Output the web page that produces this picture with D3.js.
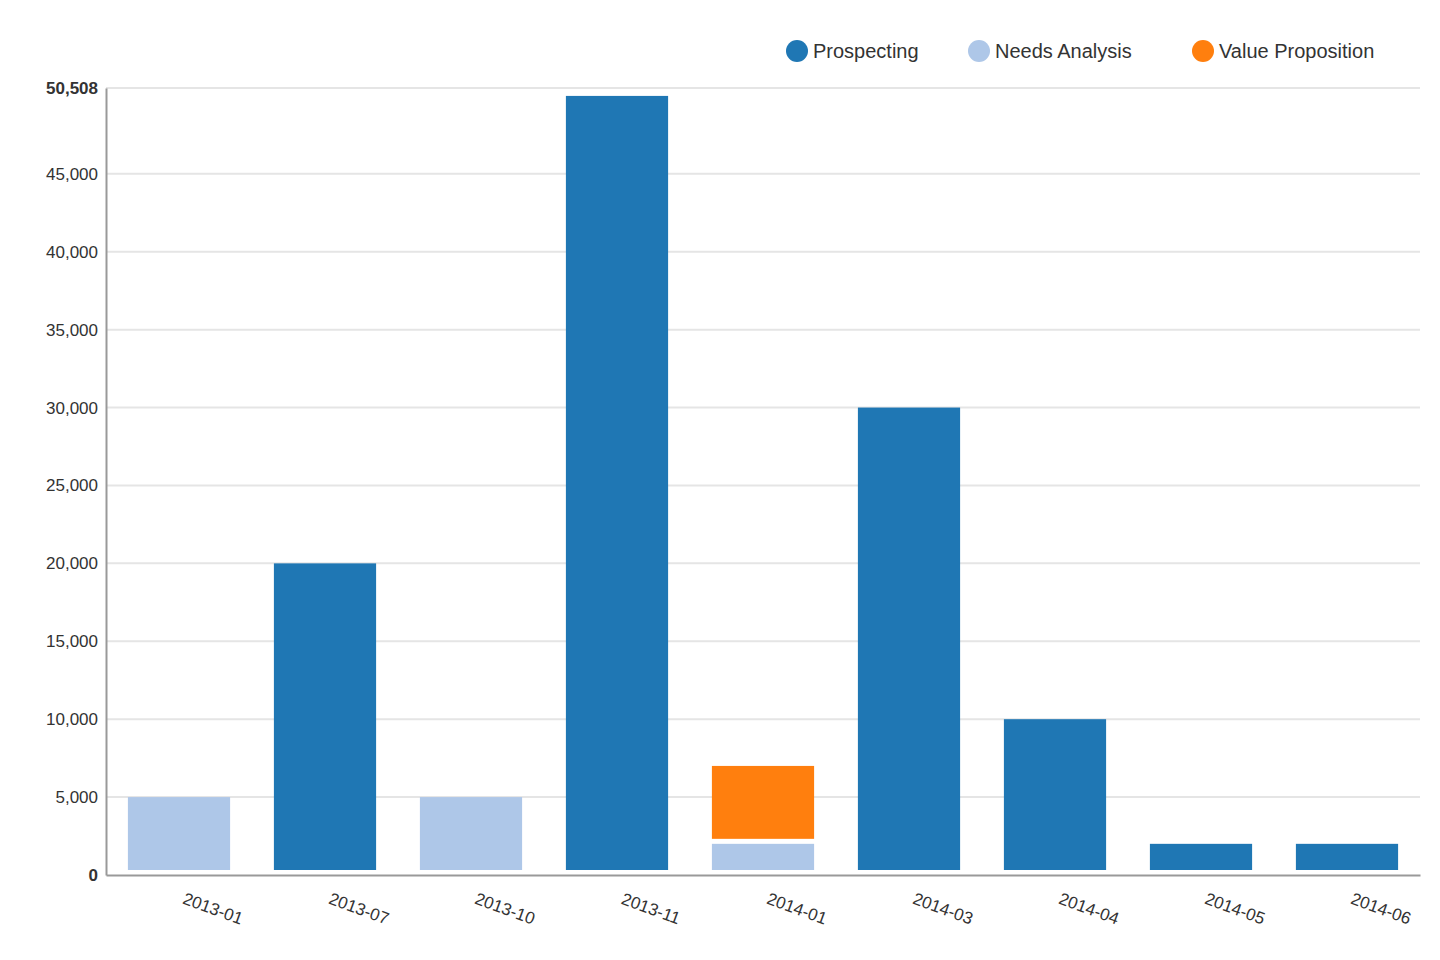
<!DOCTYPE html>
<html><head><meta charset="utf-8">
<script src="https://cdn.jsdelivr.net/npm/d3@7"></script>
<style>
body{margin:0;background:#fff;font-family:"Helvetica Neue",Arial,"Liberation Sans",sans-serif;}
.tick text{fill:#333;font-size:17px;}
</style></head><body><svg id="c" width="1440" height="960"></svg>
<script>
// data
const months = ["2013-01","2013-07","2013-10","2013-11","2014-01","2014-03","2014-04","2014-05","2014-06"];
const seriesNames = ["Prospecting","Needs Analysis","Value Proposition"];
const colors = ["#1f77b4","#aec7e8","#ff7f0e"];
const prospecting = [0,20000,0,50000,0,30000,10000,2000,2000];
const needsAnalysis = [5000,0,5000,0,2000,0,0,0,0];
const valueProposition = [0,0,0,0,5000,0,0,0,0];
const yTicks = [0,5000,10000,15000,20000,25000,30000,35000,40000,45000,50508];

const svg = d3.select("#c");
const m = {left:106, right:1420, top:88, bottom:875};

const x = d3.scaleBand().domain(months).range([m.left, m.right]).paddingInner(0.3).paddingOuter(0.15);
const y = d3.scaleLinear().domain([0,50508]).range([m.bottom, m.top]);

// grid
svg.append("g").selectAll("line").data(yTicks.slice(1)).enter().append("line")
  .attr("x1",m.left).attr("x2",m.right).attr("y1",d=>y(d)).attr("y2",d=>y(d))
  .attr("stroke","#e5e5e5").attr("stroke-width",2);

// y axis
const ya = svg.append("g").attr("transform",`translate(${m.left},0)`)
  .call(d3.axisLeft(y).tickValues(yTicks).tickSize(0).tickPadding(8).tickFormat(d3.format(",")));
ya.select(".domain").attr("stroke","#999").attr("stroke-width",2);
ya.selectAll(".tick text").attr("font-family","inherit")
  .attr("font-weight",d=>(d===0||d===50508)?"bold":"normal");

// stacked bars
const rows = months.map((mo,i)=>({month:mo, p:prospecting[i], n:needsAnalysis[i], v:valueProposition[i]}));
const stack = d3.stack().keys(["p","n","v"])(rows);
stack.forEach((layer,k)=>{
  svg.append("g").selectAll("rect").data(layer.filter(d=>d[1]>d[0])).enter().append("rect")
    .attr("x",d=>x(d.data.month)).attr("width",x.bandwidth())
    .attr("y",d=>y(d[1]))
    .attr("height",d=>Math.max(0,y(d[0])-y(d[1])-5))
    .attr("fill",colors[k])
    .attr("stroke","#fff").attr("stroke-width",0);
});

// x axis
const xa = svg.append("g").attr("transform",`translate(0,${m.bottom})`)
  .call(d3.axisBottom(x).tickSize(0).tickPadding(0));
xa.select(".domain").attr("stroke","#999").attr("stroke-width",2);
xa.selectAll(".tick text").attr("font-family","inherit").attr("font-size",19).attr("fill","#444")
  .attr("text-anchor","middle").attr("transform","translate(32,39) rotate(20)").attr("y",0).attr("dy","0");

// legend
const lx = [797, 979, 1203];
const lg = svg.append("g");
seriesNames.forEach((s,i)=>{
  lg.append("circle").attr("cx",lx[i]).attr("cy",51).attr("r",11).attr("fill",colors[i]);
  lg.append("text").attr("x",lx[i]+16).attr("y",58).attr("font-size",20).attr("fill","#333").text(s);
});
</script></body></html>
